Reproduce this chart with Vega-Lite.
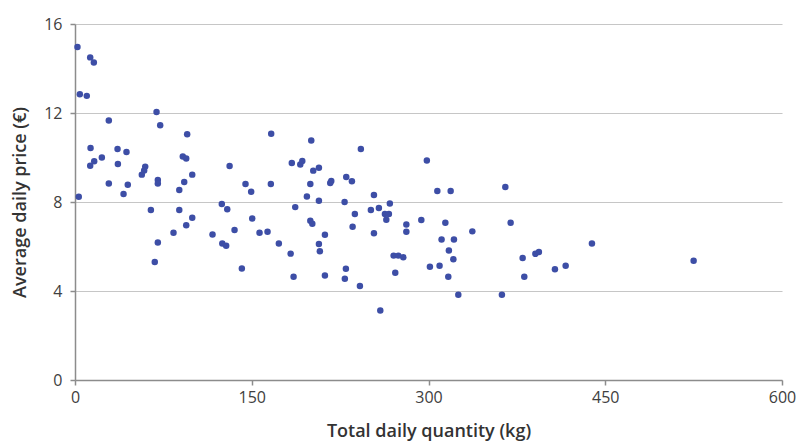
{
  "$schema": "https://vega.github.io/schema/vega-lite/v6.json",
  "autosize": "none",
  "width": 707,
  "height": 356,
  "padding": {"left": 75, "top": 24, "right": 27, "bottom": 68},
  "background": "white",
  "config": {
    "view": {"stroke": null},
    "font": "Open Sans"
  },
  "data": {
    "values": [
      {"q": 2.1, "p": 14.97}, {"q": 12.9, "p": 14.5}, {"q": 16, "p": 14.27}, {"q": 4.1, "p": 12.84},
      {"q": 10, "p": 12.77}, {"q": 69.2, "p": 12.05}, {"q": 28.7, "p": 11.66}, {"q": 72.3, "p": 11.45},
      {"q": 95.2, "p": 11.04}, {"q": 166.5, "p": 11.07}, {"q": 13.2, "p": 10.43}, {"q": 36.1, "p": 10.38},
      {"q": 43.7, "p": 10.25}, {"q": 22.8, "p": 10.0}, {"q": 91.5, "p": 10.04}, {"q": 94.4, "p": 9.95},
      {"q": 16.3, "p": 9.83}, {"q": 12.9, "p": 9.63}, {"q": 36.4, "p": 9.71}, {"q": 59.6, "p": 9.59},
      {"q": 58.7, "p": 9.42}, {"q": 56.7, "p": 9.23}, {"q": 99.5, "p": 9.23}, {"q": 131.2, "p": 9.62},
      {"q": 184, "p": 9.75}, {"q": 191.2, "p": 9.69}, {"q": 192.9, "p": 9.84}, {"q": 200.5, "p": 10.76},
      {"q": 28.7, "p": 8.83}, {"q": 44.8, "p": 8.78}, {"q": 70.3, "p": 8.99}, {"q": 70.3, "p": 8.83},
      {"q": 92.7, "p": 8.9}, {"q": 88.5, "p": 8.54}, {"q": 41.2, "p": 8.36}, {"q": 144.7, "p": 8.81},
      {"q": 149.5, "p": 8.46}, {"q": 166.2, "p": 8.81}, {"q": 199.7, "p": 8.81}, {"q": 196.8, "p": 8.25},
      {"q": 3.2, "p": 8.24}, {"q": 64.4, "p": 7.64}, {"q": 88.5, "p": 7.64}, {"q": 124.6, "p": 7.91},
      {"q": 129.2, "p": 7.67}, {"q": 99.5, "p": 7.29}, {"q": 94.4, "p": 6.96}, {"q": 83.6, "p": 6.62},
      {"q": 70.3, "p": 6.18}, {"q": 67.7, "p": 5.3}, {"q": 116.7, "p": 6.54}, {"q": 125, "p": 6.13},
      {"q": 128.3, "p": 6.03}, {"q": 135.4, "p": 6.74}, {"q": 150.4, "p": 7.26}, {"q": 156.6, "p": 6.62},
      {"q": 163.4, "p": 6.66}, {"q": 141.6, "p": 5.01}, {"q": 173, "p": 6.13}, {"q": 183, "p": 5.68},
      {"q": 185.5, "p": 4.64}, {"q": 186.9, "p": 7.77}, {"q": 242.6, "p": 10.38}, {"q": 207, "p": 9.54},
      {"q": 202.2, "p": 9.41}, {"q": 298.6, "p": 9.87}, {"q": 230.2, "p": 9.12}, {"q": 235, "p": 8.93},
      {"q": 217.5, "p": 8.94}, {"q": 216.6, "p": 8.85}, {"q": 307.5, "p": 8.49}, {"q": 318.8, "p": 8.49},
      {"q": 365.2, "p": 8.67}, {"q": 207, "p": 8.06}, {"q": 228.8, "p": 8.0}, {"q": 253.7, "p": 8.31},
      {"q": 267.2, "p": 7.93}, {"q": 257.9, "p": 7.73}, {"q": 251.1, "p": 7.64}, {"q": 263, "p": 7.46},
      {"q": 266.4, "p": 7.46}, {"q": 264.2, "p": 7.2}, {"q": 237.5, "p": 7.46}, {"q": 199.7, "p": 7.16},
      {"q": 201.4, "p": 7.02}, {"q": 235.6, "p": 6.89}, {"q": 253.7, "p": 6.6}, {"q": 281.2, "p": 6.99},
      {"q": 281.2, "p": 6.66}, {"q": 293.9, "p": 7.19}, {"q": 314.3, "p": 7.07}, {"q": 337.2, "p": 6.68},
      {"q": 369.7, "p": 7.07}, {"q": 212.1, "p": 6.53}, {"q": 207, "p": 6.11}, {"q": 207.8, "p": 5.79},
      {"q": 311.1, "p": 6.31}, {"q": 321.6, "p": 6.31}, {"q": 317.3, "p": 5.82}, {"q": 321.1, "p": 5.43},
      {"q": 270.4, "p": 5.59}, {"q": 274.4, "p": 5.59}, {"q": 278.6, "p": 5.52}, {"q": 271.8, "p": 4.82},
      {"q": 301.2, "p": 5.09}, {"q": 309.4, "p": 5.13}, {"q": 316.8, "p": 4.64}, {"q": 325.3, "p": 3.83},
      {"q": 362.3, "p": 3.83}, {"q": 379.9, "p": 5.48}, {"q": 381.3, "p": 4.64}, {"q": 390.7, "p": 5.67},
      {"q": 393.7, "p": 5.75}, {"q": 229.9, "p": 5.0}, {"q": 229, "p": 4.55}, {"q": 241.8, "p": 4.22},
      {"q": 212.1, "p": 4.7}, {"q": 259.1, "p": 3.12}, {"q": 407.3, "p": 4.98}, {"q": 416.4, "p": 5.13},
      {"q": 438.7, "p": 6.13}, {"q": 525, "p": 5.36}
    ]
  },
  "mark": {"type": "circle", "size": 42, "color": "#3d4ea6", "opacity": 1},
  "encoding": {
    "x": {
      "field": "q", "type": "quantitative",
      "scale": {"domain": [0, 600], "nice": false, "zero": true},
      "axis": {
        "title": "Total daily quantity (kg)",
        "values": [0, 150, 300, 450, 600],
        "grid": false,
        "labelFlush": false,
        "domainColor": "#8c8c8c", "domainWidth": 1.5,
        "tickColor": "#8c8c8c", "tickSize": 5, "tickWidth": 1.5,
        "labelFont": "Open Sans", "labelFontSize": 16, "labelColor": "#404040", "labelPadding": 4,
        "titleFont": "Open Sans", "titleFontSize": 18, "titleFontWeight": 600, "titleColor": "#333333",
        "titlePadding": 17
      }
    },
    "y": {
      "field": "p", "type": "quantitative",
      "scale": {"domain": [0, 16], "nice": false},
      "axis": {
        "title": "Average daily price (€)",
        "values": [0, 4, 8, 12, 16],
        "grid": true, "gridColor": "#c6c6c6", "gridWidth": 1.2,
        "labelFlush": false,
        "domainColor": "#8c8c8c", "domainWidth": 1.5,
        "tickColor": "#8c8c8c", "tickSize": 5, "tickWidth": 1.5,
        "labelFont": "Open Sans", "labelFontSize": 16, "labelColor": "#404040", "labelPadding": 8,
        "titleFont": "Open Sans", "titleFontSize": 18, "titleFontWeight": 600, "titleColor": "#333333",
        "titlePadding": 14
      }
    }
  }
}
